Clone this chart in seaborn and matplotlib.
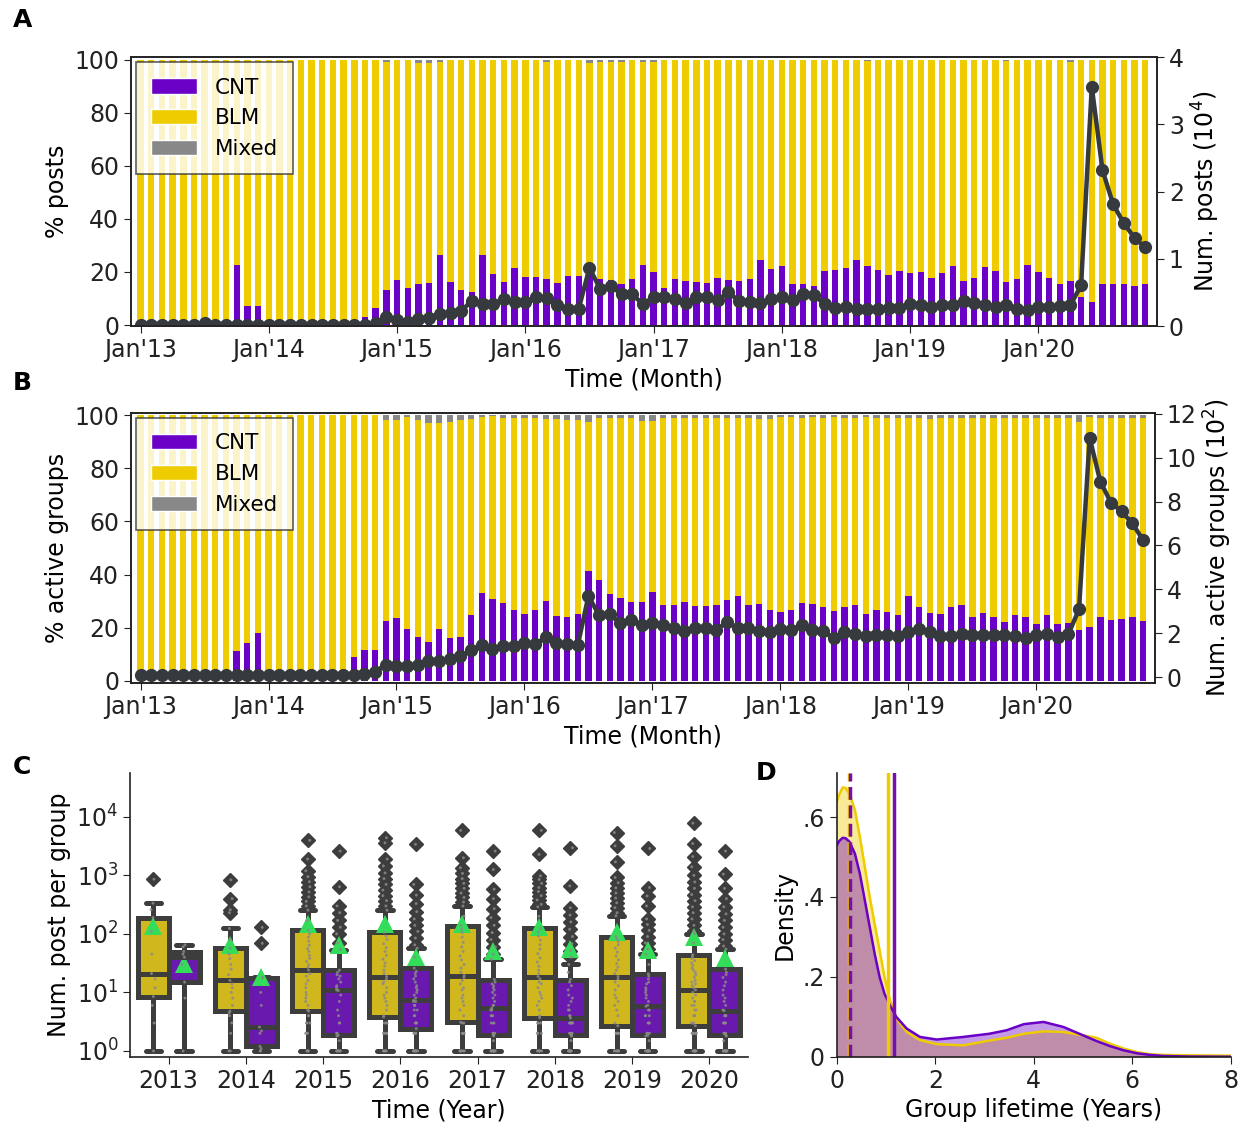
import numpy as np
import pandas as pd
import matplotlib
matplotlib.use("Agg")
import matplotlib.pyplot as plt
import seaborn as sns
from matplotlib.patches import Patch
from matplotlib.ticker import NullLocator, FixedLocator

# ---------------- data ----------------
month_labels = list(pd.date_range("2013-01-01", periods=95, freq="MS").strftime("%Y-%m"))
tick_labels = ["Jan'13", "Jan'14", "Jan'15", "Jan'16", "Jan'17", "Jan'18", "Jan'19", "Jan'20"]

# Panel A: % posts per month (CNT, Mixed; BLM is the remainder) and number of posts (x10^4)
a_cnt = [0, 0, 0, 0, 0, 0, 0, 0, 0, 22.8, 7.1, 7.1,
         0, 0, 0, 0, 0, 0, 0, 1.0, 0, 2.9, 6.3, 13.1,
         17.1, 13.8, 15.6, 15.8, 26.5, 16.4, 13.4, 12.5, 26.3, 19.4, 16.4, 21.6,
         18.1, 18.0, 17.3, 16.0, 18.4, 18.4, 20.0, 17.4, 16.9, 15.6, 17.3, 22.5,
         19.9, 14.0, 17.3, 16.6, 16.3, 16.0, 17.8, 16.9, 16.6, 17.5, 24.6, 21.3,
         22.1, 15.3, 15.3, 14.8, 20.3, 20.6, 21.4, 24.4, 22.1, 20.6, 18.8, 20.4,
         19.6, 19.9, 17.8, 19.6, 22.4, 16.6, 17.9, 21.9, 20.4, 16.4, 17.3, 22.6,
         20.0, 17.8, 15.3, 16.6, 10.6, 8.8, 15.3, 15.6, 15.3, 14.6, 15.6]
a_mixed = [0, 0, 0, 0, 0, 0, 0, 0, 0, 0, 0, 0,
           0, 0, 0, 0, 0, 0, 0, 0, 0, 0, 0, 1.0,
           0, 0, 1.5, 1.5, 0.8, 0.2, 0.2, 0.2, 0.2, 0.2, 0.2, 0.2,
           0.2, 0.2, 1.0, 0.3, 0.3, 0.3, 1.5, 0.8, 0.8, 0.8, 0.3, 1.0,
           1.0, 0.2, 0.2, 0.2, 0.2, 0.2, 0.2, 0.2, 0.2, 0.2, 0.2, 0.2,
           0.2, 0.2, 0.2, 0.2, 0.2, 0.2, 0.2, 0.2, 0.5, 0.2, 0.2, 0.2,
           0.2, 0.2, 0.2, 0.2, 0.2, 0.2, 0.3, 0.2, 0.2, 0.5, 0.2, 0.2,
           0.2, 0.2, 0.2, 0.8, 0.3, 0.2, 0.2, 0.2, 0.2, 0.2, 0.2]
a_posts = [0.01, 0.01, 0.01, 0.01, 0.01, 0.01, 0.04, 0.015, 0.01, 0.01, 0.01, 0.01,
           0.01, 0.01, 0.01, 0.01, 0.01, 0.01, 0.01, 0.015, 0.01, 0.02, 0.04, 0.135,
           0.085, 0.06, 0.1, 0.125, 0.175, 0.2, 0.225, 0.375, 0.335, 0.325, 0.4, 0.36,
           0.36, 0.425, 0.41, 0.315, 0.25, 0.26, 0.865, 0.55, 0.6, 0.475, 0.475, 0.325,
           0.435, 0.425, 0.4, 0.34, 0.425, 0.435, 0.385, 0.5, 0.375, 0.36, 0.35, 0.4,
           0.435, 0.39, 0.475, 0.465, 0.325, 0.275, 0.285, 0.26, 0.25, 0.25, 0.27, 0.27,
           0.335, 0.31, 0.285, 0.31, 0.31, 0.37, 0.35, 0.32, 0.285, 0.31, 0.26, 0.245,
           0.285, 0.285, 0.3, 0.31, 0.605, 3.56, 2.32, 1.81, 1.53, 1.31, 1.17]

# Panel B: % active groups per month and number of active groups (x10^2)
b_cnt = [0, 0, 0, 0, 0, 0, 0, 0, 0, 11.0, 14.1, 18.0,
         0, 0, 0, 0, 0, 0, 0, 0, 9.0, 11.6, 11.5, 22.4,
         23.5, 19.4, 16.3, 14.5, 19.6, 16.0, 16.6, 24.6, 32.9, 30.6, 29.4, 26.6,
         25.0, 26.6, 30.0, 24.4, 24.1, 25.0, 41.3, 37.8, 32.8, 31.3, 29.5, 29.6,
         33.3, 28.5, 28.4, 29.6, 28.1, 28.1, 28.4, 30.4, 31.9, 28.5, 29.0, 26.8,
         25.9, 26.6, 29.1, 28.8, 27.9, 26.4, 27.9, 28.4, 25.3, 26.5, 25.9, 24.6,
         31.9, 27.9, 25.6, 25.0, 27.9, 28.4, 24.1, 25.4, 23.8, 22.1, 24.8, 23.8,
         21.3, 24.6, 21.3, 21.9, 19.1, 20.4, 24.1, 22.9, 23.4, 24.0, 22.5]
b_mixed = [0, 0, 0, 0, 0, 0, 0, 0, 0, 0, 0, 0,
           0, 0, 0, 0, 0, 0, 0, 0, 0, 0, 0, 1.6,
           1.6, 0.5, 1.6, 2.9, 2.9, 2.5, 1.6, 1.3, 0.6, 0.3, 1.0, 1.0,
           1.2, 1.2, 1.5, 1.5, 1.8, 1.8, 2.5, 1.2, 1.2, 1.2, 1.2, 2.2,
           2.0, 1.2, 1.0, 1.2, 1.2, 1.0, 1.0, 1.0, 1.2, 1.2, 1.5, 1.5,
           0.8, 0.6, 1.2, 0.6, 1.2, 0.8, 1.0, 1.2, 0.8, 1.0, 1.2, 1.0,
           1.2, 1.2, 1.5, 1.0, 1.2, 1.2, 1.0, 1.2, 1.2, 1.0, 1.2, 1.0,
           1.2, 1.2, 1.0, 1.2, 2.5, 0.8, 1.2, 1.2, 1.2, 1.2, 1.2]
b_groups = [0.08, 0.08, 0.08, 0.08, 0.08, 0.08, 0.08, 0.08, 0.08, 0.08, 0.08, 0.08,
            0.08, 0.08, 0.08, 0.08, 0.08, 0.08, 0.08, 0.08, 0.1, 0.15, 0.26, 0.57,
            0.53, 0.53, 0.56, 0.72, 0.72, 0.83, 0.95, 1.25, 1.46, 1.28, 1.43, 1.4,
            1.55, 1.5, 1.81, 1.55, 1.5, 1.46, 3.7, 2.82, 2.87, 2.45, 2.6, 2.38,
            2.46, 2.37, 2.26, 2.11, 2.22, 2.26, 2.16, 2.52, 2.22, 2.26, 2.11, 2.04,
            2.19, 2.16, 2.37, 2.14, 2.11, 1.77, 2.08, 1.99, 1.89, 1.93, 1.92, 1.86,
            2.04, 2.19, 2.04, 1.86, 1.86, 1.99, 1.93, 1.92, 1.93, 1.93, 1.89, 1.78,
            1.93, 1.96, 1.81, 1.96, 3.09, 10.9, 8.9, 7.95, 7.55, 7.0, 6.26]

# Panel C: posts per group, per year (samples matching the read box statistics)
years = [2013, 2014, 2015, 2016, 2017, 2018, 2019, 2020]
blm_posts = {
    2013: [1, 3, 6, 8.5, 12, 17, 21, 45, 110, 190, 260, 335, 860],
    2014: [1, 1, 2, 3, 4, 4.5, 4.8, 6, 8, 10, 12, 14, 16, 20, 25, 30, 38, 45, 57,
           80, 124, 230, 258, 400, 840],
    2015: [1, 1, 1, 1, 2, 2, 2, 3, 3, 3, 4, 4, 4.8, 5, 6, 7, 8, 9, 10, 12, 14, 16, 19, 21,
           24, 27, 30, 34, 38, 43, 50, 56, 64, 75, 88, 100, 116,
           170, 254, 300, 360, 430, 520, 640, 780, 950, 1200, 1900, 3970],
    2016: [1, 1, 1, 1, 1, 2, 2, 2, 2, 3, 3, 3, 3.8, 4, 5, 6, 7, 8, 9, 10, 12, 14, 15, 17,
           18.7, 21, 24, 28, 32, 37, 43, 50, 58, 68, 80, 92, 106,
           254, 300, 370, 450, 560, 700, 880, 1100, 1450, 1900, 3600, 4400],
    2017: [1, 1, 1, 1, 1, 1, 2, 2, 2, 2, 3, 3, 3.1, 4, 5, 6, 7, 8, 9, 11, 12, 14, 16, 18,
           19.4, 22, 26, 30, 36, 42, 50, 60, 72, 88, 105, 120, 138,
           200, 300, 350, 420, 500, 600, 730, 880, 1080, 1350, 2000, 5870],
    2018: [1, 1, 1, 1, 1, 1, 2, 2, 2, 3, 3, 3, 3.7, 4, 5, 6, 7, 8, 9, 10, 12, 14, 15, 17,
           18.7, 21, 24, 28, 33, 39, 46, 55, 65, 78, 92, 108, 124,
           200, 290, 320, 380, 450, 530, 620, 730, 850, 980, 2280, 5870],
    2019: [1, 1, 1, 1, 1, 1, 1, 2, 2, 2, 2, 2, 2.7, 3, 4, 5, 6, 7, 8, 9, 11, 13, 15, 17,
           18.7, 21, 24, 27, 31, 36, 42, 49, 57, 65, 74, 82, 90,
           204, 230, 280, 340, 410, 500, 610, 750, 920, 1700, 3200, 5400],
    2020: [1, 1, 1, 1, 1, 1, 1, 1, 2, 2, 2, 2, 2, 2, 2, 2, 2.7,
           3, 3, 3, 4, 4, 4, 5, 5, 6, 6, 7, 7, 8, 9, 10, 11,
           12, 13, 14, 15, 16, 18, 20, 22, 24, 26, 29, 32, 35, 38, 41, 44,
           70, 100, 110, 140, 180, 230, 290, 370, 470, 600, 770, 1000, 1400, 2100, 3500, 7800],
}
cnt_posts = {
    2013: [1, 8, 15, 30, 40, 45, 50, 60, 65],
    2014: [1, 1, 1.1, 1.2, 2, 2.2, 2.56, 6, 10, 17.7, 18, 69, 129],
    2015: [1, 1, 1, 1, 1, 1, 1, 1.5, 1.8, 1.85, 2, 2, 3, 3, 4, 5, 7, 9, 10.8,
           11, 12, 13, 15, 17, 19, 20, 22, 24,
           54, 70, 100, 130, 170, 230, 300, 640, 2600],
    2016: [1, 1, 1, 1, 1, 1, 1, 1, 2, 2, 2, 2, 2.4, 3, 3, 3, 4, 4, 5, 5, 6, 6, 7, 7,
           7.3, 8, 9, 10, 11, 12, 13, 15, 17, 19, 21, 23, 26,
           40, 57, 65, 85, 110, 140, 180, 240, 330, 460, 700, 3400],
    2017: [1, 1, 1, 1, 1, 1, 1, 1, 1, 1, 1.5, 1.8, 1.85, 2, 2, 2, 3, 3, 3, 4, 4, 4, 5, 5,
           5.4, 6, 6, 7, 8, 9, 10, 11, 12, 13, 14, 15, 16.6,
           37, 45, 60, 80, 105, 140, 190, 270, 400, 580, 1260, 2600],
    2018: [1, 1, 1, 1, 1, 1, 1, 1, 1, 1, 1.5, 1.8, 1.85, 2, 2, 2, 2, 2, 3, 3, 3, 3, 3, 3,
           3.65, 4, 4, 5, 5, 6, 7, 8, 9, 11, 13, 15, 16.6,
           22, 30, 40, 52, 68, 90, 120, 160, 210, 280, 660, 2960],
    2019: [1, 1, 1, 1, 1, 1, 1, 1, 1, 1, 1.5, 1.8, 1.85, 2, 2, 2, 3, 3, 3, 4, 4, 4, 5, 5,
           5.8, 6, 7, 8, 9, 10, 11, 12, 14, 15, 17, 19, 20.7,
           30, 45, 55, 70, 90, 115, 145, 180, 300, 445, 620, 2880],
    2020: [1, 1, 1, 1, 1, 1, 1, 1, 1, 1, 1.5, 1.8, 1.85, 2, 2, 2, 3, 3, 3, 3, 4, 4, 4, 4,
           4.9, 5, 6, 7, 8, 9, 11, 13, 15, 18, 20, 22, 25,
           55, 62, 80, 100, 130, 170, 220, 290, 400, 600, 1050, 2600],
}
blm_mean_posts = [138, 65, 147, 147, 150, 129, 106, 87]
cnt_mean_posts = [30.7, 18.2, 65, 40, 51, 55, 53, 38]

# Panel D: density of group lifetime (years)
lifetime_x = [0.0, 0.05, 0.12, 0.18, 0.26, 0.37, 0.47, 0.57, 0.67, 0.77, 0.87, 0.97, 1.08,
              1.21, 1.42, 1.69, 2.03, 2.57, 3.1, 3.45, 3.8, 4.2, 4.6, 5.0, 5.27, 5.55,
              5.82, 6.1, 6.36, 6.63, 7.15, 8.0]
blm_density = [0.638, 0.656, 0.674, 0.673, 0.658, 0.617, 0.55, 0.475, 0.40, 0.333, 0.267,
               0.20, 0.142, 0.096, 0.0625, 0.042, 0.032, 0.029, 0.041, 0.048, 0.058, 0.064,
               0.0625, 0.054, 0.048, 0.033, 0.021, 0.012, 0.0067, 0.005, 0.004, 0.003]
cnt_density = [0.529, 0.540, 0.548, 0.547, 0.538, 0.508, 0.458, 0.392, 0.325, 0.258, 0.20,
               0.158, 0.129, 0.10, 0.071, 0.05, 0.0435, 0.05, 0.058, 0.0667, 0.082, 0.0875,
               0.075, 0.054, 0.04, 0.027, 0.0167, 0.009, 0.005, 0.0025, 0.001, 0.0005]
lifetime_median = {"BLM": 0.24, "CNT": 0.265}
lifetime_mean = {"BLM": 1.04, "CNT": 1.157}

# ---------------- style ----------------
CNT_C = "#6B00C6"
BLM_C = "#EECC00"
MIX_C = "#888888"
LINE_C = "#36393d"
GREEN = "#33DD5A"
BOXLINE = "#3d3d3d"

sns.set_style("ticks")
plt.rcParams["font.family"] = ["DejaVu Sans"]
plt.rcParams["font.size"] = 17
plt.rcParams["axes.labelsize"] = 17
plt.rcParams["xtick.labelsize"] = 17
plt.rcParams["ytick.labelsize"] = 17
plt.rcParams["axes.edgecolor"] = "#222222"
plt.rcParams["axes.linewidth"] = 1.2
plt.rcParams["xtick.major.size"] = 5
plt.rcParams["ytick.major.size"] = 5
plt.rcParams["xtick.color"] = "#222222"
plt.rcParams["ytick.color"] = "#222222"
plt.rcParams["text.color"] = "black"
plt.rcParams["axes.labelcolor"] = "black"

fig = plt.figure(figsize=(12.47, 11.22), dpi=100)

axA = fig.add_axes([0.105, 0.7094, 0.8228, 0.2397])
axB = fig.add_axes([0.105, 0.3913, 0.8210, 0.2406])
axC = fig.add_axes([0.1043, 0.058, 0.4955, 0.253])
axD = fig.add_axes([0.671, 0.058, 0.316, 0.253])


def stacked_panel(ax, cnt, mixed, totals, left_label, right_label, left_lim, right_lim, right_ticks):
    df = pd.DataFrame({"month": month_labels, "cnt": cnt, "mixed": mixed})
    df["all"] = 100.0
    df["cnt_blm"] = 100.0 - df["mixed"]
    common = dict(x="month", order=month_labels, width=0.6, errorbar=None,
                  saturation=1, linewidth=0, ax=ax)
    sns.barplot(data=df, y="all", color=MIX_C, **common)
    sns.barplot(data=df, y="cnt_blm", color=BLM_C, **common)
    sns.barplot(data=df, y="cnt", color=CNT_C, **common)
    ax.set_ylim(*left_lim)
    ax.set_yticks([0, 20, 40, 60, 80, 100])
    ax.set_ylabel(left_label)
    ax.set_xlabel("Time (Month)")
    ax.set_xticks(list(range(0, len(month_labels), 12)))
    ax.set_xticklabels(tick_labels)
    for s in ax.spines.values():
        s.set_visible(True)

    handles = [Patch(facecolor=CNT_C, label="CNT"),
               Patch(facecolor=BLM_C, label="BLM"),
               Patch(facecolor=MIX_C, label="Mixed")]
    leg = ax.legend(handles=handles, loc="upper left", fontsize=15.5, fancybox=False,
                    edgecolor="#333333", framealpha=0.8, borderaxespad=0.25,
                    borderpad=0.7, handlelength=2.1, handletextpad=0.85,
                    labelspacing=0.5)
    leg.get_frame().set_linewidth(1.2)

    ax2 = ax.twinx()
    sns.lineplot(x=np.arange(len(month_labels)), y=totals, ax=ax2, color=LINE_C,
                 linewidth=3.2, marker="o", markersize=9.5, markeredgewidth=0,
                 markerfacecolor=LINE_C)
    ax2.set_ylim(*right_lim)
    ax2.set_yticks(right_ticks)
    ax2.set_ylabel(right_label)
    ax.set_xlim(-0.9, 95.1)
    ax2.set_xlim(-0.9, 95.1)
    return ax2


stacked_panel(axA, a_cnt, a_mixed, a_posts, "% posts", "Num. posts ($10^4$)",
              (-0.35, 100.9), (0, 4.0), [0, 1, 2, 3, 4])
stacked_panel(axB, b_cnt, b_mixed, b_groups, "% active groups", "Num. active groups ($10^2$)",
              (-0.87, 100.86), (-0.26, 12.03), [0, 2, 4, 6, 8, 10, 12])

# ---------------- panel C ----------------
rows = []
for y in years:
    rows += [(y, "BLM", v) for v in blm_posts[y]]
    rows += [(y, "CNT", v) for v in cnt_posts[y]]
dfc = pd.DataFrame(rows, columns=["year", "group", "posts"])
dfm = pd.DataFrame({"year": years * 2,
                    "group": ["BLM"] * len(years) + ["CNT"] * len(years),
                    "mean": blm_mean_posts + cnt_mean_posts})

sns.boxplot(data=dfc, x="year", y="posts", hue="group", hue_order=["BLM", "CNT"],
            palette=[BLM_C, CNT_C], saturation=0.75, width=0.8, gap=0, whis=1.5,
            linewidth=3.6, linecolor=BOXLINE, legend=False, ax=axC,
            flierprops=dict(marker="D", markersize=7, markerfacecolor=BOXLINE,
                            markeredgecolor=BOXLINE))
np.random.seed(3)
sns.stripplot(data=dfc, x="year", y="posts", hue="group", hue_order=["BLM", "CNT"],
              palette=["#8a8a8a", "#8a8a8a"], dodge=True, jitter=0.06, size=2.1,
              alpha=0.85, legend=False, ax=axC)
sns.pointplot(data=dfm, x="year", y="mean", hue="group", hue_order=["BLM", "CNT"],
              palette=[GREEN, GREEN], dodge=0.4, markers="^", linestyle="none",
              markersize=13.5, markeredgewidth=0, errorbar=None, legend=False, ax=axC)
axC.set_yscale("log")
axC.set_ylim(0.79, 5.6e4)
axC.yaxis.set_major_locator(FixedLocator([1, 10, 100, 1000, 10000]))
axC.yaxis.set_minor_locator(NullLocator())
axC.set_xlim(-0.5, 7.5)
axC.set_xlabel("Time (Year)")
axC.set_ylabel("Num. post per group")
sns.despine(ax=axC)

# ---------------- panel D ----------------
axD.fill_between(lifetime_x, blm_density, color=BLM_C, alpha=0.4, linewidth=0)
sns.lineplot(x=lifetime_x, y=blm_density, color=BLM_C, linewidth=1.8, ax=axD)
axD.fill_between(lifetime_x, cnt_density, color=CNT_C, alpha=0.4, linewidth=0)
sns.lineplot(x=lifetime_x, y=cnt_density, color=CNT_C, linewidth=1.8, ax=axD)
axD.axvline(lifetime_median["BLM"], color=BLM_C, linestyle="--", linewidth=2.5)
axD.axvline(lifetime_median["CNT"], color="#7A0FA8", linestyle="--", linewidth=2.5)
axD.axvline(lifetime_mean["BLM"], color=BLM_C, linestyle="-", linewidth=2.5)
axD.axvline(lifetime_mean["CNT"], color="#7A0FA8", linestyle="-", linewidth=2.5)
axD.set_xlim(0, 8)
axD.set_ylim(0, 0.71)
axD.set_xticks([0, 2, 4, 6, 8])
axD.set_yticks([0, 0.2, 0.4, 0.6])
axD.set_yticklabels(["0", ".2", ".4", ".6"])
axD.set_xlabel("Group lifetime (Years)")
axD.set_ylabel("Density")
sns.despine(ax=axD)

# panel letters
for letter, (x, y) in {"A": (0.010, 0.982), "B": (0.010, 0.659),
                       "C": (0.010, 0.316), "D": (0.606, 0.311)}.items():
    fig.text(x, y, letter, fontsize=18, fontweight="bold", va="center", ha="left")

fig.savefig("out.png", dpi=100)
